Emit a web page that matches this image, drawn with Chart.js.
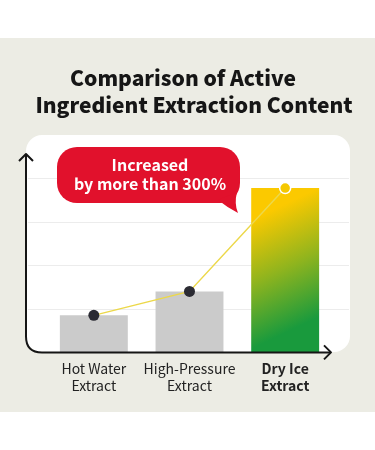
<!DOCTYPE html>
<html>
<head>
<meta charset="utf-8">
<script src="https://cdn.jsdelivr.net/npm/chart.js@4"></script>
<style>
  html, body { margin: 0; padding: 0; background: #ffffff; }
  #wrap { width: 375px; height: 450px; }
</style>
</head>
<body>
<div id="wrap"><canvas id="chart"></canvas></div>
<script>
// Chart data
const categories = [['Hot Water', 'Extract'], ['High-Pressure', 'Extract'], ['Dry Ice', 'Extract']];
const contentValues = [0.85, 1.4, 3.77];
const gridTicks = [1, 2, 3, 4];
const titleLines = ['Comparison of Active', 'Ingredient Extraction Content'];
const bubbleLines = ['Increased', 'by more than 300%'];

const FONT = "'Noto Sans CJK KR', 'Noto Sans', sans-serif";

// Background panel, title, white card and grid lines
const backdropPlugin = {
  id: 'backdrop',
  beforeDraw(chart) {
    const { ctx } = chart;
    const y = chart.scales.y;
    ctx.save();
    ctx.fillStyle = '#ecece4';
    ctx.fillRect(0, 38, 375, 374);

    ctx.fillStyle = '#161616';
    ctx.font = `900 21px ${FONT}`;
    ctx.textAlign = 'center';
    ctx.textBaseline = 'middle';
    ctx.fillText(titleLines[0], 183, 78);
    ctx.fillText(titleLines[1], 194, 105);

    ctx.fillStyle = '#ffffff';
    ctx.beginPath();
    ctx.roundRect(26, 135, 324, 217, 16);
    ctx.fill();

    ctx.strokeStyle = '#ececec';
    ctx.lineWidth = 1;
    gridTicks.forEach(t => {
      const py = Math.round(y.getPixelForValue(t)) + 0.5;
      ctx.beginPath();
      ctx.moveTo(28, py);
      ctx.lineTo(349, py);
      ctx.stroke();
    });
    ctx.restore();
  },
  afterDraw(chart) {
    const { ctx } = chart;
    const base = chart.scales.y.getPixelForValue(0);
    ctx.save();

    // axes with rounded corner and arrows
    ctx.strokeStyle = '#151515';
    ctx.lineWidth = 2;
    ctx.lineJoin = 'round';
    ctx.beginPath();
    ctx.moveTo(26, 154);
    ctx.lineTo(26, base - 16);
    ctx.quadraticCurveTo(26, base, 42, base);
    ctx.lineTo(331, base);
    ctx.stroke();
    ctx.beginPath();
    ctx.moveTo(19, 161);
    ctx.lineTo(26, 154);
    ctx.lineTo(33, 161);
    ctx.stroke();
    ctx.beginPath();
    ctx.moveTo(324, base - 7);
    ctx.lineTo(331, base);
    ctx.lineTo(324, base + 7);
    ctx.stroke();

    // speech bubble
    ctx.fillStyle = '#e1112c';
    ctx.beginPath();
    ctx.roundRect(57, 147, 183, 56, 20);
    ctx.fill();
    ctx.beginPath();
    ctx.moveTo(218, 200);
    ctx.quadraticCurveTo(228, 208, 238, 213);
    ctx.quadraticCurveTo(234, 204, 237, 192);
    ctx.closePath();
    ctx.fill();

    ctx.fillStyle = '#ffffff';
    ctx.font = `bold 16px ${FONT}`;
    ctx.textAlign = 'center';
    ctx.textBaseline = 'middle';
    ctx.fillText(bubbleLines[0], 150, 165);
    ctx.fillText(bubbleLines[1], 150, 184);
    ctx.restore();
  }
};

const ctx = document.getElementById('chart').getContext('2d');

function barFill(context) {
  const area = context.chart.chartArea;
  if (context.dataIndex !== 2) return '#cbcbcb';
  if (!area) return '#f5c800';
  const g = context.chart.ctx.createLinearGradient(262, 215, 312, 320);
  g.addColorStop(0, '#fbc900');
  g.addColorStop(0.5, '#8fb41e');
  g.addColorStop(1, '#199a3d');
  return g;
}

new Chart(ctx, {
  data: {
    labels: categories,
    datasets: [
      {
        type: 'line',
        data: contentValues,
        borderColor: '#ecd84a',
        borderWidth: 1.5,
        pointRadius: 5.5,
        pointBackgroundColor: ['#2b2b33', '#2b2b33', '#f5c800'],
        pointBorderColor: ['#2b2b33', '#2b2b33', '#ffffff'],
        pointBorderWidth: [0, 0, 1.5],
        order: 0,
      },
      {
        type: 'bar',
        data: contentValues,
        backgroundColor: barFill,
        barPercentage: 0.71,
        categoryPercentage: 1,
        order: 1,
      },
    ],
  },
  options: {
    responsive: true,
    maintainAspectRatio: false,
    animation: false,
    layout: {
      padding: { left: 46, right: 42, top: 134.5, bottom: 48 },
    },
    plugins: {
      legend: { display: false },
      tooltip: { enabled: false },
    },
    scales: {
      x: {
        grid: { display: false, drawTicks: false },
        border: { display: false },
        ticks: {
          color: '#222222',
          padding: 8,
          maxRotation: 0,
          minRotation: 0,
          autoSkip: false,
          font: c => ({ family: FONT, size: 14, weight: c.index === 2 ? 'bold' : 'normal', lineHeight: 1.2 }),
        },
      },
      y: {
        display: false,
        min: 0,
        max: 5,
      },
    },
  },
  plugins: [backdropPlugin],
});
</script>
</body>
</html>
